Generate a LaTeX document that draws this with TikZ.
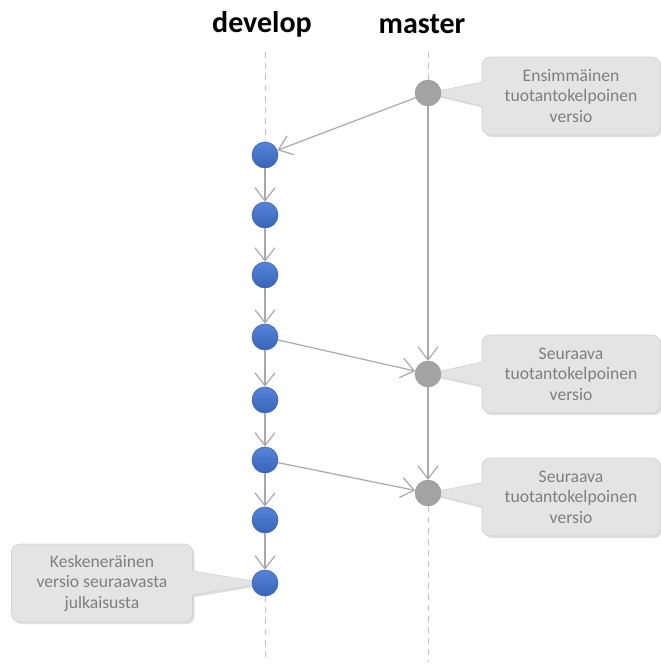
\documentclass[tikz,border=0pt]{standalone}
\usepackage{fontspec}
\setmainfont{Carlito}
\usetikzlibrary{arrows.meta,shapes.callouts,shadows}
\pgfdeclarelayer{bg}
\pgfsetlayers{bg,main}
\definecolor{linegray}{HTML}{A9A9A9}
\definecolor{lanegray}{HTML}{BFBFBF}
\definecolor{devtop}{HTML}{5584D8}
\definecolor{devbot}{HTML}{3A64B8}
\definecolor{devborder}{HTML}{3A62B0}
\definecolor{masfill}{HTML}{A3A3A3}
\definecolor{notefill}{HTML}{E4E4E4}
\definecolor{noteborder}{HTML}{D2D2D2}
\definecolor{notetext}{HTML}{7F7F7F}
\begin{document}
\begin{tikzpicture}[x=1pt,y=-1pt,
  dev/.style={circle, minimum size=26pt, inner sep=0pt, draw=devborder, line width=0.6pt, top color=devtop, bottom color=devbot},
  mas/.style={circle, minimum size=26pt, inner sep=0pt, fill=masfill, draw=masfill!92!black, line width=0.4pt},
  conn/.style={draw=linegray, line width=1.2pt, -{Straight Barb[length=13pt,width=20pt,line width=1.2pt]}},
  lane/.style={draw=lanegray, line width=0.9pt, dash pattern=on 6pt off 5pt},
  note/.style={rectangle callout, rounded corners=8pt, fill=notefill, draw=noteborder, line width=0.6pt,
    minimum width=178pt, minimum height=78pt, align=center, text=notetext, inner sep=2pt,
    font=\fontsize{17.6}{20.5}\selectfont, callout pointer width=24pt,
    drop shadow={shadow xshift=2pt, shadow yshift=-2pt, opacity=0.25}},
  title/.style={font=\fontsize{30}{32}\selectfont\bfseries, inner sep=0pt}]
\useasboundingbox (0,0) rectangle (661,664);

% titles
\node[title] (tdev) at (262,24) {develop};
\node[title] (tmas) at (422,24) {master};

% develop commits
\node[dev] (d1) at (265,155) {};
\node[dev] (d2) at (265,215) {};
\node[dev] (d3) at (265,275) {};
\node[dev] (d4) at (265,337) {};
\node[dev] (d5) at (265,400) {};
\node[dev] (d6) at (265,460) {};
\node[dev] (d7) at (265,520) {};
\node[dev] (d8) at (265,583) {};

% master commits
\node[mas] (m1) at (428,93) {};
\node[mas] (m2) at (428,374) {};
\node[mas] (m3) at (428,493) {};

% lane ends
\coordinate (dtop) at (265,52);
\coordinate (dbot) at (265,662);
\coordinate (mtop) at (428,52);
\coordinate (mbot) at (428,662);

\begin{pgfonlayer}{bg}
\draw[lane] (dtop) -- (d1.north);
\draw[lane] (d8.south) -- (dbot);
\draw[lane] (mtop) -- (m1.north);
\draw[lane] (m3.south) -- (mbot);

\node[note, callout absolute pointer={(m1.center)}] (c1) at (571,96) {Ensimmäinen\\tuotantokelpoinen\\versio};
\node[note, callout absolute pointer={(m2.center)}] (c2) at (571,374) {Seuraava\\tuotantokelpoinen\\versio};
\node[note, callout absolute pointer={(m3.center)}] (c3) at (571,497) {Seuraava\\tuotantokelpoinen\\versio};
\node[note, minimum width=181pt, callout absolute pointer={(d8.center)}] (c4) at (102,583) {Keskeneräinen\\versio seuraavasta\\julkaisusta};
\end{pgfonlayer}

% connectors
\draw[conn] (m1) -- (d1);
\draw[conn] (d1) -- (d2);
\draw[conn] (d2) -- (d3);
\draw[conn] (d3) -- (d4);
\draw[conn] (d4) -- (d5);
\draw[conn] (d5) -- (d6);
\draw[conn] (d6) -- (d7);
\draw[conn] (d7) -- (d8);
\draw[conn] (d4) -- (m2);
\draw[conn] (m1) -- (m2);
\draw[conn] (d6) -- (m3);
\draw[conn] (m2) -- (m3);
\end{tikzpicture}
\end{document}
